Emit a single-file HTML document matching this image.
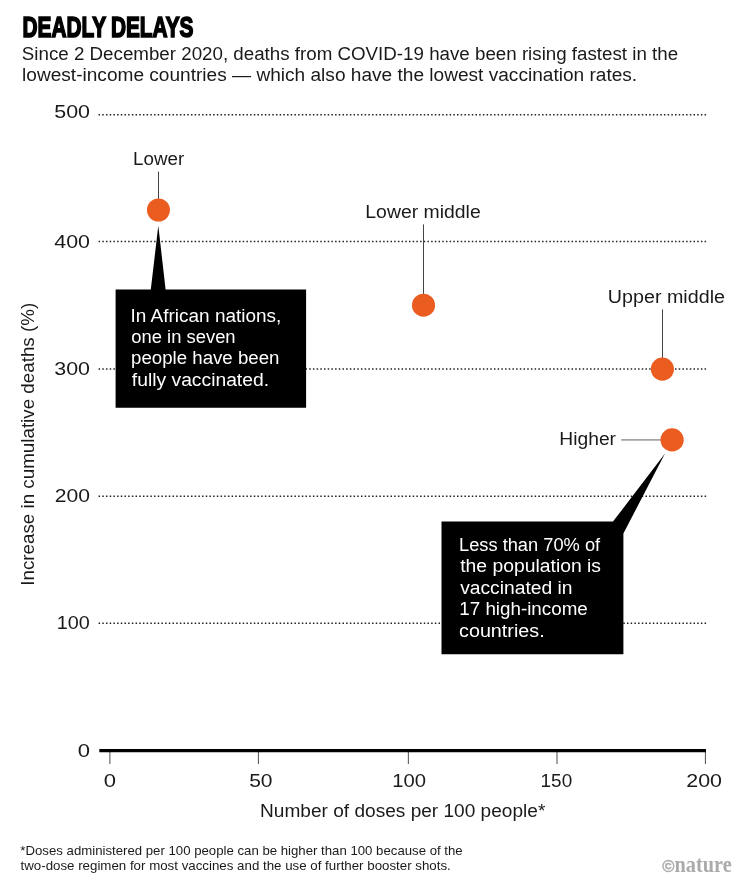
<!DOCTYPE html>
<html lang="en">
<head>
<meta charset="utf-8">
<title>Deadly delays</title>
<style>
html,body{margin:0;padding:0;background:#fff;}
body{width:751px;height:888px;overflow:hidden;}
svg{display:block;}
text{font-family:"Liberation Sans",Arial,Helvetica,sans-serif;fill:#1a1a1a;}
.t{font-size:18px;}
.w{fill:#fff;font-size:18px;}
.fn{font-size:12.2px;}
.title{font-size:30.3px;font-weight:700;fill:#000;stroke:#000;stroke-width:1.7px;stroke-linejoin:miter;word-spacing:-1px;}
.copy{font-size:16px;font-weight:700;fill:#ababab;stroke:#ababab;stroke-width:0.4px;}
.logo{font-family:"Liberation Serif","Times New Roman",serif;font-size:23px;font-weight:700;fill:#ababab;}
.grid line{stroke:#222;stroke-width:1.5;stroke-dasharray:1.5 2.195;}
.tick line{stroke:#4d4d4d;stroke-width:1;}
.dot{fill:#ea5c20;}
</style>
</head>
<body>
<svg width="751" height="888" viewBox="0 0 751 888">
<rect width="751" height="888" fill="#fff"/>

<!-- heading -->
<text id="title" class="title" x="22.49" y="36.5" textLength="171.01" lengthAdjust="spacingAndGlyphs">DEADLY DELAYS</text>
<text id="sub1" class="t" x="21.85" y="59.7" textLength="656.30" lengthAdjust="spacingAndGlyphs">Since 2 December 2020, deaths from COVID-19 have been rising fastest in the</text>
<text id="sub2" class="t" x="22.05" y="80.8" textLength="615.13" lengthAdjust="spacingAndGlyphs">lowest-income countries — which also have the lowest vaccination rates.</text>

<!-- grid lines -->
<g class="grid">
<line x1="98.6" x2="706.2" y1="114.7" y2="114.7"/>
<line x1="98.6" x2="706.2" y1="241.6" y2="241.6"/>
<line x1="98.6" x2="706.2" y1="369" y2="369"/>
<line x1="98.6" x2="706.2" y1="496.2" y2="496.2"/>
<line x1="98.6" x2="706.2" y1="623.3" y2="623.3"/>
</g>

<!-- y axis labels -->
<text id="y500" class="t" x="54.22" y="118.2" textLength="35.77" lengthAdjust="spacingAndGlyphs">500</text>
<text id="y400" class="t" x="54.28" y="248.0" textLength="35.69" lengthAdjust="spacingAndGlyphs">400</text>
<text id="y300" class="t" x="54.22" y="374.7" textLength="35.77" lengthAdjust="spacingAndGlyphs">300</text>
<text id="y200" class="t" x="54.78" y="502.0" textLength="35.25" lengthAdjust="spacingAndGlyphs">200</text>
<text id="y100" class="t" x="56.78" y="629.2" textLength="33.04" lengthAdjust="spacingAndGlyphs">100</text>
<text id="y0" class="t" x="77.76" y="756.6" textLength="12.26" lengthAdjust="spacingAndGlyphs">0</text>

<!-- x axis -->
<g class="tick">
<line x1="109.9" x2="109.9" y1="750" y2="764"/>
<line x1="258.4" x2="258.4" y1="750" y2="764"/>
<line x1="408.35" x2="408.35" y1="750" y2="764"/>
<line x1="557" x2="557" y1="750" y2="764"/>
<line x1="705.4" x2="705.4" y1="750" y2="764"/>
</g>
<line x1="99.3" x2="706" y1="750.65" y2="750.65" stroke="#000" stroke-width="3.1"/>
<text id="x0" class="t" x="103.76" y="787.0" textLength="12.26" lengthAdjust="spacingAndGlyphs">0</text>
<text id="x50" class="t" x="249.17" y="787.0" textLength="23.39" lengthAdjust="spacingAndGlyphs">50</text>
<text id="x100" class="t" x="392.23" y="787.0" textLength="33.76" lengthAdjust="spacingAndGlyphs">100</text>
<text id="x150" class="t" x="540.62" y="787.0" textLength="31.56" lengthAdjust="spacingAndGlyphs">150</text>
<text id="x200" class="t" x="686.32" y="787.0" textLength="35.70" lengthAdjust="spacingAndGlyphs">200</text>
<text id="xt" class="t" x="260.09" y="817.1" textLength="285.26" lengthAdjust="spacingAndGlyphs">Number of doses per 100 people*</text>

<!-- y axis title -->
<text id="yt" class="t" transform="translate(33.6 584.0) rotate(-90)" x="-1.79" y="0" textLength="282.95" lengthAdjust="spacingAndGlyphs">Increase in cumulative deaths (%)</text>

<!-- leader lines -->
<line x1="158.5" x2="158.5" y1="171.6" y2="199" stroke="#444" stroke-width="1"/>
<line x1="423.5" x2="423.5" y1="224.4" y2="295" stroke="#444" stroke-width="1"/>
<line x1="662.5" x2="662.5" y1="309.4" y2="358" stroke="#444" stroke-width="1"/>
<line x1="621.2" x2="661" y1="439.9" y2="439.9" stroke="#a4a4a4" stroke-width="1.6"/>

<!-- data points -->
<circle class="dot" cx="158.45" cy="210" r="11.5"/>
<circle class="dot" cx="423.5" cy="305.2" r="11.55"/>
<circle class="dot" cx="662.4" cy="369.1" r="11.6"/>
<circle class="dot" cx="672.1" cy="439.9" r="11.6"/>

<!-- point labels -->
<text id="lower" class="t" x="133.09" y="165.2" textLength="51.09" lengthAdjust="spacingAndGlyphs">Lower</text>
<text id="lowmid" class="t" x="365.30" y="218.4" textLength="115.44" lengthAdjust="spacingAndGlyphs">Lower middle</text>
<text id="upmid" class="t" x="607.83" y="303.1" textLength="117.14" lengthAdjust="spacingAndGlyphs">Upper middle</text>
<text id="higher" class="t" x="559.30" y="444.8" textLength="56.73" lengthAdjust="spacingAndGlyphs">Higher</text>

<!-- callout 1 -->
<path d="M115.6,289.4 L150.8,289.4 L158.3,225.8 L165.6,289.4 L306.1,289.4 L306.1,407.8 L115.6,407.8 Z" fill="#000"/>
<text id="c1a" class="w" x="130.54" y="321.5" textLength="150.81" lengthAdjust="spacingAndGlyphs">In African nations,</text>
<text id="c1b" class="w" x="131.35" y="342.6" textLength="104.25" lengthAdjust="spacingAndGlyphs">one in seven</text>
<text id="c1c" class="w" x="131.08" y="364.1" textLength="148.32" lengthAdjust="spacingAndGlyphs">people have been</text>
<text id="c1d" class="w" x="131.85" y="385.6" textLength="137.19" lengthAdjust="spacingAndGlyphs">fully vaccinated.</text>

<!-- callout 2 -->
<path d="M441.5,521.6 L613,521.6 L665,453.6 L623.4,533.4 L623.4,654.3 L441.5,654.3 Z" fill="#000"/>
<text id="c2a" class="w" x="458.97" y="550.9" textLength="141.16" lengthAdjust="spacingAndGlyphs">Less than 70% of</text>
<text id="c2b" class="w" x="460.20" y="572.4" textLength="140.86" lengthAdjust="spacingAndGlyphs">the population is</text>
<text id="c2c" class="w" x="460.15" y="594.0" textLength="112.35" lengthAdjust="spacingAndGlyphs">vaccinated in</text>
<text id="c2d" class="w" x="459.27" y="615.3" textLength="128.51" lengthAdjust="spacingAndGlyphs">17 high-income</text>
<text id="c2e" class="w" x="459.06" y="636.7" textLength="85.58" lengthAdjust="spacingAndGlyphs">countries.</text>

<!-- footnote -->
<text id="fn1" class="fn" x="20.35" y="855.1" textLength="442.35" lengthAdjust="spacingAndGlyphs">*Doses administered per 100 people can be higher than 100 because of the</text>
<text id="fn2" class="fn" x="20.50" y="869.9" textLength="430.30" lengthAdjust="spacingAndGlyphs">two-dose regimen for most vaccines and the use of further booster shots.</text>

<!-- logo -->
<text id="copy" class="copy" x="662.18" y="872.4" textLength="12.18" lengthAdjust="spacingAndGlyphs">©</text>
<text id="nature" class="logo" x="674.56" y="872.2" textLength="57.12" lengthAdjust="spacingAndGlyphs">nature</text>
</svg>
</body>
</html>
